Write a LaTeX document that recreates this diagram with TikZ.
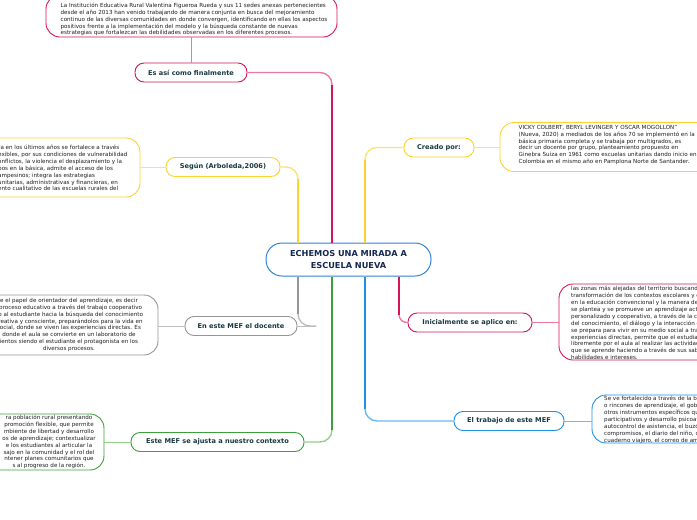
\documentclass[tikz,border=0pt]{standalone}
\usepackage{fontspec}
\setmainfont{DejaVu Sans}
\usetikzlibrary{calc}
\definecolor{pinkD}{RGB}{214,20,92}
\definecolor{pinkL}{RGB}{236,120,160}
\definecolor{yel}{RGB}{250,212,45}
\definecolor{yelL}{RGB}{252,226,110}
\definecolor{blu}{RGB}{30,144,230}
\definecolor{bluL}{RGB}{110,185,240}
\definecolor{gry}{RGB}{150,150,150}
\definecolor{gryL}{RGB}{190,190,190}
\definecolor{grn}{RGB}{60,160,60}
\definecolor{grnL}{RGB}{150,205,140}
\definecolor{ctr}{RGB}{50,130,210}
\definecolor{lbltxt}{RGB}{24,56,66}
\definecolor{ctrtxt}{RGB}{20,40,80}
\definecolor{boxtxt}{RGB}{30,30,30}
\begin{document}
\begin{tikzpicture}[x=1pt,y=-1pt,
  lbl/.style={draw, line width=0.9pt, rounded corners=9pt, fill=white,
    font=\fontsize{6.6}{8}\selectfont\bfseries, text=lbltxt,
    minimum height=19pt, inner sep=0pt},
  boxframe/.style={draw, line width=0.9pt, rounded corners=14pt, fill=white, inner sep=0pt},
  boxtext/.style={font=\fontsize{5.6}{6.9}\selectfont, text=boxtxt, inner sep=0pt},
  thinconn/.style={line width=0.8pt},
  branch/.style={line width=1.4pt, rounded corners=12pt},
  trunk/.style={line width=2.6pt}]
\useasboundingbox (0,0) rectangle (697,520);
\clip (0,0) rectangle (697,520);

% central node
\node[draw=ctr, line width=1pt, rounded corners=16pt, fill=white,
  minimum width=165pt, minimum height=33pt, align=center, inner sep=0pt,
  font=\fontsize{8.2}{11.5}\selectfont\bfseries, text=ctrtxt] (c) at (348.5,259.5)
  {ECHEMOS UNA MIRADA A\\ESCUELA NUEVA};

% labels
\node[lbl, draw=pinkD, minimum width=112pt] (fin) at (191,72.5) {Es así como finalmente};
\node[lbl, draw=yel, minimum width=114pt] (seg) at (223,167) {Según (Arboleda,2006)};
\node[lbl, draw=yel, minimum width=70pt] (cre) at (439,147.5) {Creado por:};
\node[lbl, draw=pinkD, minimum width=124pt] (ini) at (470,322.5) {Inicialmente se aplico en:};
\node[lbl, draw=blu, minimum width=110pt] (tra) at (509,421) {El trabajo de este MEF};
\node[lbl, draw=gry, minimum width=112pt] (doc) at (241,326) {En este MEF el docente};
\node[lbl, draw=grn, minimum width=173pt] (ctx) at (217.5,442) {Este MEF se ajusta a nuestro contexto};

% top box
\node[boxframe, draw=pinkD, minimum width=291pt, minimum height=42pt] (tb) at (191.5,16) {};
\node[boxtext, align=left] (tt) at (194,19.5)
  {La Institución Educativa Rural Valentina Figueroa Rueda y sus 11 sedes anexas pertenecientes\\
   desde el año 2013 han venido trabajando de manera conjunta en busca  del mejoramiento\\
   continuo de las diversas comunidades en donde convergen, identificando en ellas los aspectos\\
   positivos frente a la implementación del modelo y la búsqueda constante de nuevas\\
   estrategias que fortalezcan las debilidades observadas en los diferentes procesos.};

% left yellow box
\node[boxframe, draw=yel, minimum width=200pt, minimum height=59pt] (yb) at (40,167.5) {};
\node[boxtext, anchor=west, align=left] (yt) at (-2,168)
  {ra en los últimos años se fortalece a través\\
   exibles, por sus condiciones de vulnerabilidad\\
   onflictos, la violencia el desplazamiento y la\\
   pos en la básica, admite el acceso de los\\
   ampesinos; integra las estrategias\\
   unitarias, administrativas y financieras, en\\
   ento cualitativo de las escuelas rurales del};

% right yellow box
\node[boxframe, draw=yel, minimum width=260pt, minimum height=49pt] (rb) at (630,147) {};
\node[boxtext, anchor=west, align=left] (rt) at (518.5,145)
  {VICKY COLBERT, BERYL LEVINGER Y OSCAR MOGOLLON"\\
   (Nueva, 2020) a mediados de los años 70 se implementó en la\\
   básica primaria completa y se trabaja por  multigrados, es\\
   decir un docente por grupo, planteamiento propuesto en\\
   Ginebra Suiza en 1961 como escuelas unitarias dando inicio en\\
   Colombia en el mismo año en Pamplona Norte de Santander.};

% right pink box
\node[boxframe, draw=pinkD, minimum width=201pt, minimum height=76pt] (pb) at (659.5,322) {};
\node[boxtext, anchor=west, align=left] (pt) at (571,323)
  {las zonas más alejadas del territorio buscand\\
   transformación de los contextos escolares y c\\
   en la educación convencional y la manera de\\
   se plantea y se promueve un aprendizaje acti\\
   personalizado y cooperativo, a través de la co\\
   del conocimiento, el diálogo y la interacción d\\
   se prepara para vivir en su medio social a tra\\
   experiencias directas, permite que el estudia\\
   libremente por el aula al realizar las actividad\\
   que se aprende haciendo a través de sus sabe\\
   habilidades e intereses.};

% right blue box
\node[boxframe, draw=blu, minimum width=168pt, minimum height=48pt] (bb) at (676,419) {};
\node[boxtext, anchor=west, align=left] (bt) at (604,420)
  {Se ve fortalecido a través de la bi\\
   o rincones de aprendizaje, el gobi\\
   otros instrumentos específicos qu\\
   participativos y desarrollo psicoaf\\
   autocontrol de asistencia, el buzó\\
   compromisos, el diario del niño, c\\
   cuaderno viajero, el correo de am};

% left gray box
\node[boxframe, draw=gry, minimum width=218pt, minimum height=60pt] (gb) at (49,325) {};
\node[boxtext, align=center] (gt) at (69,325)
  {e el papel de orientador del aprendizaje, es decir\\
   l proceso educativo a través del trabajo cooperativo\\
   do al estudiante hacia la búsqueda del conocimiento\\
   creativa y consciente, preparándolos para la vida en\\
   social, donde se viven las experiencias directas. Es\\
   donde el aula se convierte en un laboratorio de\\
   ientos siendo el estudiante el protagonista en los\\
   diversos procesos.};

% left green box
\node[boxframe, draw=grn, minimum width=164pt, minimum height=56pt] (eb) at (22,442) {};
\node[boxtext, align=center] (et) at (49,442)
  {ra población rural presentando\\
   promoción flexible, que permite\\
   mbiente de libertad y desarrollo\\
   os de aprendizaje; contextualizar\\
   e los estudiantes al articular la\\
   sajo en la comunidad y el rol  del\\
   ntener planes comunitarios que\\
   s al progreso de la región.};

% branch start points
\coordinate (t1) at ([xshift=-50.5pt]c.north);
\coordinate (t2) at ([xshift=-16.5pt]c.north);
\coordinate (t3) at ([xshift=16.5pt]c.north);
\coordinate (b1) at ([xshift=-50.5pt]c.south);
\coordinate (b2) at ([xshift=-16.5pt]c.south);
\coordinate (b3) at ([xshift=16.5pt]c.south);
\coordinate (b4) at ([xshift=50.5pt]c.south);
\coordinate (gk) at ([xshift=19pt]doc.east);

% branches
\draw[branch, pinkL] (t2) |- (fin.east);
\draw[trunk, pinkD] (t2) -- ($(t2|-fin.east)+(0,12)$);
\draw[branch, yelL] (t1) |- (seg.east);
\draw[trunk, yel] (t1) -- ($(t1|-seg.east)+(0,12)$);
\draw[branch, yelL] (t3) |- (cre.west);
\draw[trunk, yel] (t3) -- ($(t3|-cre.west)+(0,12)$);
\draw[branch, pinkL, rounded corners=8pt] (b4) |- (ini.west);
\draw[trunk, pinkD] (b4) -- ($(b4|-ini.west)+(0,-8)$);
\draw[branch, bluL] (b3) |- (tra.west);
\draw[trunk, blu] (b3) -- ($(b3|-tra.west)+(0,-12)$);
\draw[branch, gryL] (b1) |- (gk);
\draw[trunk, gry] (b1) -- ($(b1|-gk)+(0,-12)$);
\draw[thinconn, gryL] (doc.east) -- (gk);
\draw[branch, grnL] (b2) |- (ctx.east);
\draw[trunk, grn] (b2) -- ($(b2|-ctx.east)+(0,-12)$);

% leaf connectors
\draw[thinconn, pinkL] (fin.north) -- (tb.south -| fin.north);
\draw[thinconn, yelL] (seg.west) -- (yb.east |- seg.west);
\draw[thinconn, yelL] (cre.east) -- (rb.west |- cre.east);
\draw[thinconn, pinkL] (ini.east) -- (pb.west |- ini.east);
\draw[thinconn, bluL] (tra.east) -- (bb.west |- tra.east);
\draw[thinconn, gryL] (doc.west) -- (gb.east |- doc.west);
\draw[thinconn, grnL] (ctx.west) -- (eb.east |- ctx.west);
\end{tikzpicture}
\end{document}
